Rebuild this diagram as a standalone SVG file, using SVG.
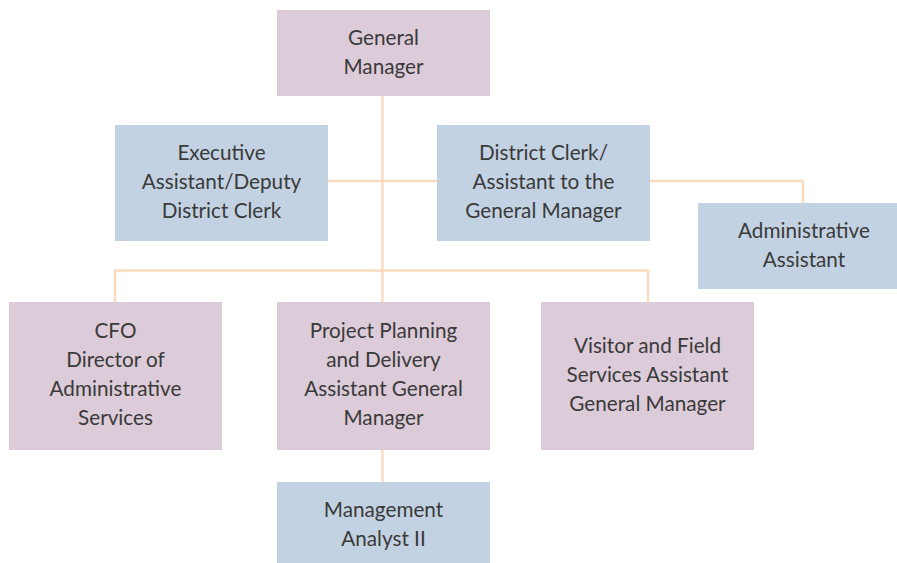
<svg xmlns="http://www.w3.org/2000/svg" width="897" height="563" viewBox="0 0 897 563">
<style>
.p{fill:#dccbd9}
.b{fill:#c3d2e2}
.t{font-family:Lato,"Liberation Sans",sans-serif;font-size:20.7px;fill:#3a3a3a;text-anchor:middle}
.c{fill:none;stroke:#f9dcc0;stroke-width:2.5}
</style>
<rect width="897" height="563" fill="#ffffff"/>
<g id="connectors">
<path class="c" d="M382.5 96V302"/>
<path class="c" d="M328 181H437"/>
<path class="c" d="M650 181H803V203"/>
<path class="c" d="M115 302V270.5H648V302"/>
<path class="c" d="M382.5 450V482"/>
</g>
<g id="gm"><rect class="p" x="277" y="10" width="213" height="86"/>
<text class="t" x="383.5" y="45">General</text><text class="t" x="383.5" y="74">Manager</text></g>
<g id="exec"><rect class="b" x="115" y="125" width="213" height="116"/>
<text class="t" x="221.5" y="160">Executive</text><text class="t" x="221.5" y="189">Assistant/Deputy</text><text class="t" x="221.5" y="218">District Clerk</text></g>
<g id="clerk"><rect class="b" x="437" y="125" width="213" height="116"/>
<text class="t" x="543.5" y="160">District Clerk/</text><text class="t" x="543.5" y="189">Assistant to the</text><text class="t" x="543.5" y="218">General Manager</text></g>
<g id="admin"><rect class="b" x="698" y="203" width="199" height="86"/>
<text class="t" x="804" y="238">Administrative</text><text class="t" x="804" y="267">Assistant</text></g>
<g id="cfo"><rect class="p" x="9" y="302" width="213" height="148"/>
<text class="t" x="115.5" y="338">CFO</text><text class="t" x="115.5" y="367">Director of</text><text class="t" x="115.5" y="396">Administrative</text><text class="t" x="115.5" y="425">Services</text></g>
<g id="ppd"><rect class="p" x="277" y="302" width="213" height="148"/>
<text class="t" x="383.5" y="338">Project Planning</text><text class="t" x="383.5" y="367">and Delivery</text><text class="t" x="383.5" y="396">Assistant General</text><text class="t" x="383.5" y="425">Manager</text></g>
<g id="vfs"><rect class="p" x="541" y="302" width="213" height="148"/>
<text class="t" x="647.5" y="353">Visitor and Field</text><text class="t" x="647.5" y="382">Services Assistant</text><text class="t" x="647.5" y="411">General Manager</text></g>
<g id="ma"><rect class="b" x="277" y="482" width="213" height="81"/>
<text class="t" x="383.5" y="517">Management</text><text class="t" x="383.5" y="546">Analyst II</text></g>
</svg>
